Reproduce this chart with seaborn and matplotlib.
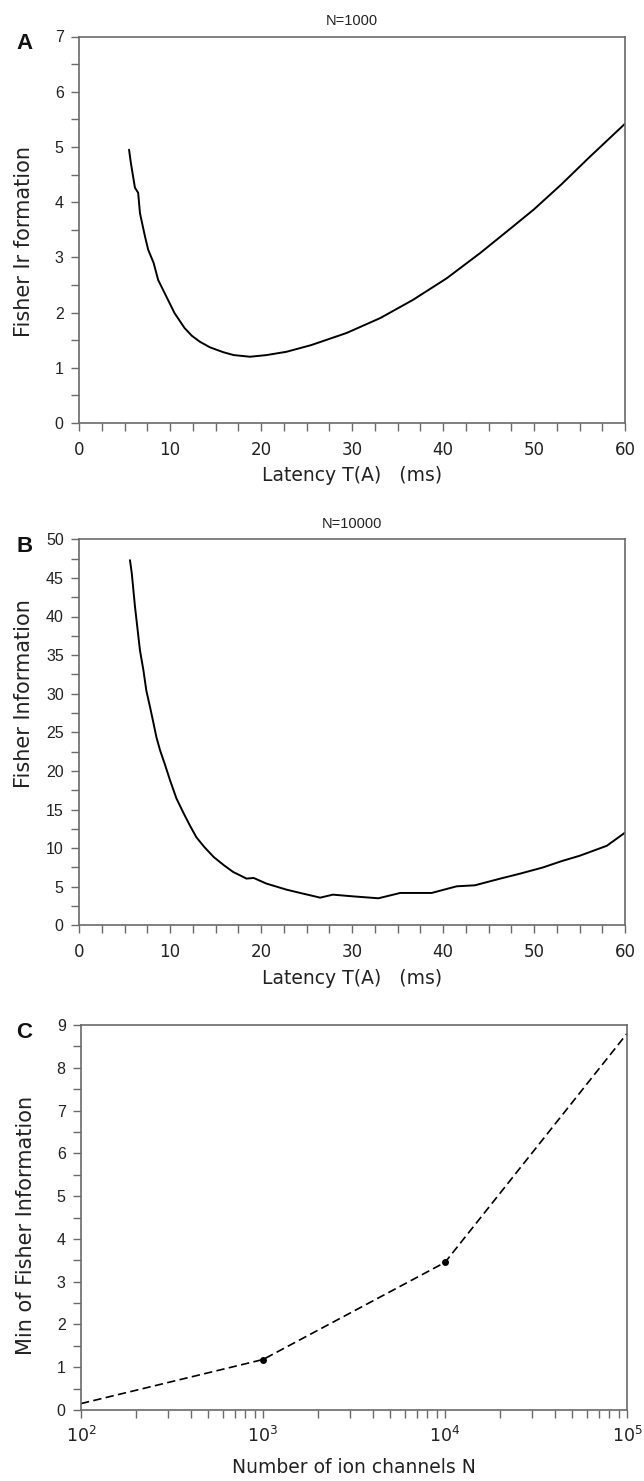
import numpy as np
import pandas as pd
import matplotlib
matplotlib.use("Agg")
import matplotlib.pyplot as plt
from matplotlib.ticker import MultipleLocator, LogLocator, LogFormatterMathtext, NullFormatter
import seaborn as sns

# Fisher information vs. latency, N = 1000 ion channels
latency_a = [5.5, 5.7, 6.15, 6.5, 6.7, 7.25, 7.6, 8.2, 8.7, 9.6, 10.5, 11.6, 12.4, 13.3, 14.4,
             15.9, 17.0, 18.8, 20.6, 22.8, 25.5, 29.4, 33.1, 36.7, 40.4, 44.1, 47.7,
             50.0, 53.0, 56.0, 60.0]
fisher_a = [4.95, 4.71, 4.26, 4.17, 3.80, 3.38, 3.14, 2.90, 2.59, 2.29, 1.99, 1.72, 1.58, 1.47, 1.37,
            1.28, 1.23, 1.20, 1.23, 1.29, 1.41, 1.63, 1.90, 2.23, 2.62, 3.08, 3.56,
            3.87, 4.32, 4.80, 5.42]

# Fisher information vs. latency, N = 10000 ion channels
latency_b = [5.6, 5.8, 6.15, 6.7, 7.07, 7.4, 7.8, 8.2, 8.5, 8.9, 9.45, 10.0, 10.7, 11.5, 12.2,
             12.9, 13.8, 14.8, 15.9, 16.95, 17.7, 18.4, 19.2, 20.6, 22.8, 24.3, 25.4, 26.5,
             27.9, 30.1, 32.9, 35.3, 38.75, 41.5, 43.5, 46.3, 48.5, 51.0, 53.0, 55.0, 58.0,
             60.0]
fisher_b = [47.3, 45.6, 41.3, 35.6, 33.1, 30.4, 28.3, 26.1, 24.4, 22.7, 20.8, 18.8, 16.45, 14.5,
            12.9, 11.4, 10.1, 8.85, 7.8, 6.9, 6.47, 6.05, 6.13, 5.4, 4.62, 4.19, 3.89, 3.58,
            3.97, 3.75, 3.50, 4.19, 4.19, 5.05, 5.18, 6.05, 6.7, 7.5, 8.3, 9.0, 10.3,
            12.0]

# Minimum Fisher information vs. number of channels
channels = [1e2, 1e3, 1e4, 1e5]
min_fisher = [0.15, 1.18, 3.45, 8.8]

titles = ["N=1000", "N=10000"]
panel_letters = ["A", "B", "C"]
xlabel_latency = "Latency T(A)   (ms)"
ylabels = ["Fisher Ir formation", "Fisher Information", "Min of Fisher Information"]
xlabel_channels = "Number of ion channels N"

sns.set_theme(style="ticks")
plt.rcParams["font.family"] = ["DejaVu Sans"]

SPINE = "#6a6a6a"
W, H = 644, 1481
fig = plt.figure(figsize=(W / 100, H / 100), dpi=100)


def frac_box(left, top, right, bottom):
    return [left / W, 1 - bottom / H, (right - left) / W, (bottom - top) / H]


ax_a = fig.add_axes(frac_box(79, 36.5, 625, 423))
ax_b = fig.add_axes(frac_box(79, 539.3, 625, 925.3))
ax_c = fig.add_axes(frac_box(81, 1025, 627, 1410))

sns.lineplot(x=latency_a, y=fisher_a, ax=ax_a, color="black", lw=1.4,
             sort=False, estimator=None)
sns.lineplot(x=latency_b, y=fisher_b, ax=ax_b, color="black", lw=1.4,
             sort=False, estimator=None)
sns.lineplot(x=channels, y=min_fisher, ax=ax_c, color="black", lw=1.2,
             sort=False, estimator=None, linestyle=(0, (5, 2.6)),
             marker="o", markevery=[1, 2], markersize=5, markeredgewidth=0)


def style_axis(ax):
    for s in ax.spines.values():
        s.set_visible(True)
        s.set_color(SPINE)
        s.set_linewidth(1.2)
    ax.tick_params(which="both", direction="out", color=SPINE, width=1.0)
    ax.tick_params(axis="x", which="both", length=5.5, pad=7.5, labelsize=12,
                   labelcolor="#222222")
    ax.tick_params(axis="y", which="both", length=5.5, pad=5.5, labelsize=11.5,
                   labelcolor="#222222")
    for lab in ax.get_yticklabels():
        lab.set_fontfamily("Liberation Sans")


for ax, ymax, ymaj, ymin in [(ax_a, 7, 1, 0.5), (ax_b, 50, 5, 2.5)]:
    ax.set_xlim(0, 60)
    ax.set_ylim(0, ymax)
    ax.xaxis.set_major_locator(MultipleLocator(10))
    ax.xaxis.set_minor_locator(MultipleLocator(2.5))
    ax.yaxis.set_major_locator(MultipleLocator(ymaj))
    ax.yaxis.set_minor_locator(MultipleLocator(ymin))
    style_axis(ax)

ax_c.set_xscale("log")
ax_c.set_xlim(1e2, 1e5)
ax_c.set_ylim(0, 9)
ax_c.xaxis.set_major_locator(LogLocator(base=10))
ax_c.xaxis.set_major_formatter(LogFormatterMathtext())
ax_c.xaxis.set_minor_locator(LogLocator(base=10, subs=np.arange(2, 10)))
ax_c.xaxis.set_minor_formatter(NullFormatter())
ax_c.yaxis.set_major_locator(MultipleLocator(1))
ax_c.yaxis.set_minor_locator(MultipleLocator(0.5))
style_axis(ax_c)
ax_c.tick_params(axis="x", which="both", pad=6, labelsize=12.5)

for ax, t in zip([ax_a, ax_b], titles):
    ax.set_title(t, fontsize=10.5, family="Liberation Sans", pad=8, color="#222222")

for ax in [ax_a, ax_b]:
    ax.set_xlabel(xlabel_latency, fontsize=13.5, color="#222222")
    ax.xaxis.set_label_coords(0.5, -0.112)
ax_c.set_xlabel(xlabel_channels, fontsize=13.5, color="#222222")
ax_c.xaxis.set_label_coords(0.5, -0.125)

for ax, lab, yc in zip([ax_a, ax_b, ax_c], ylabels, [0.47, 0.6, 0.48]):
    ax.set_ylabel(lab, fontsize=15, color="#222222")
    ax.yaxis.set_label_coords(-0.082, yc)

for ax, letter in zip([ax_a, ax_b, ax_c], panel_letters):
    bb = ax.get_position()
    fig.text(16 / W, bb.y1 - 7 / H, letter, fontsize=16, fontweight="bold",
             family="Liberation Sans", ha="left", va="center", color="#111111")

fig.savefig("out.png", dpi=100, facecolor="white")
